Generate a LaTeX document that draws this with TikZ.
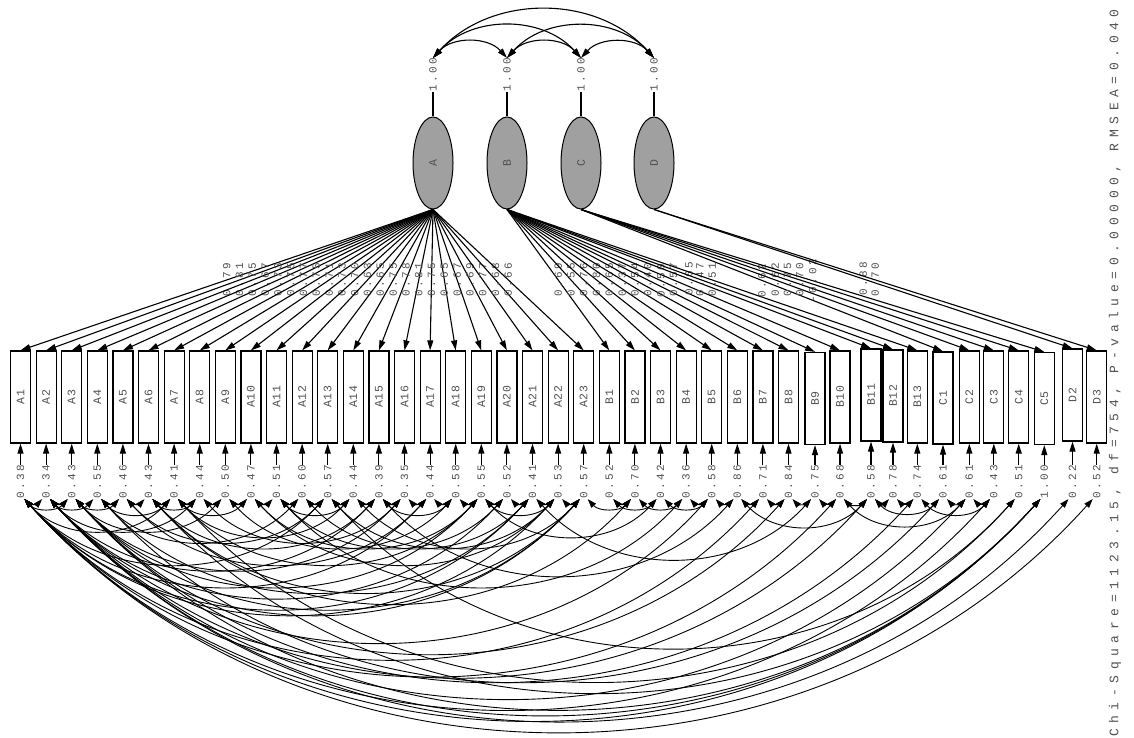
\documentclass[tikz,border=0pt]{standalone}
\usepackage{fontspec}
\newfontfamily\boxfont[LetterSpace=5]{Liberation Mono}
\newfontfamily\numfont[LetterSpace=22]{Liberation Mono}
\newfontfamily\statfont[LetterSpace=43]{Liberation Mono}
\usetikzlibrary{arrows.meta,shapes.geometric,calc}
\definecolor{latgray}{RGB}{160,160,160}
\definecolor{txtgray}{RGB}{80,80,80}
\begin{document}
\begin{tikzpicture}[x=1pt,y=-1pt,
  numlbl/.style={font=\numfont\fontsize{11}{12}\selectfont, text=txtgray, inner sep=0pt, rotate=90},
  statlbl/.style={font=\statfont\fontsize{13}{15}\selectfont, text=txtgray, inner sep=0pt, rotate=90},
  obsbox/.style={draw, line width=1.2pt, minimum width=20pt, minimum height=92pt, inner sep=0pt, font=\boxfont\fontsize{11.5}{12}\selectfont, text=txtgray},
  latent/.style={ellipse, draw, line width=1pt, fill=latgray, minimum width=40pt, minimum height=92pt, inner sep=0pt, font=\boxfont\fontsize{11.5}{12}\selectfont, text=txtgray},
  loadline/.style={line width=1.1pt, -{Triangle[length=10pt,width=6pt]}},
  errline/.style={line width=1.1pt, -{Triangle[length=10pt,width=6pt]}},
  covarc/.style={line width=0.9pt, {Triangle[length=9pt,width=6pt]}-{Triangle[length=9pt,width=6pt]}},
  covtop/.style={line width=1.1pt, {Triangle[length=10pt,width=6pt]}-{Triangle[length=10pt,width=6pt]}},
  varline/.style={line width=1.1pt}]
\useasboundingbox (0,0) rectangle (1134,738);

% latent variables with variances
\foreach \n/\x in {A/433,B/507,C/581,D/654}{
  \node[latent] (L\n) at (\x,163) {\rotatebox{90}{\n}};
  \node[numlbl, anchor=west] (v\n) at (\x,92) {1.00};
  \draw[varline] (v\n.west) -- (L\n.north);
}
\foreach \ea/\eb in {A/B,B/C,C/D,A/C,B/D,A/D}{
  \draw[covtop] (v\ea.east) .. controls ($(v\ea.east)!0.39!48:(v\eb.east)$) and ($(v\eb.east)!0.39!-48:(v\ea.east)$) .. (v\eb.east);
}

% observed variables, error variances, loadings
\foreach \i/\x/\py/\t/\e/\l/\f in {
0/20.5/397/A1/0.38/0.79/A,
1/46.1/397/A2/0.34/0.81/A,
2/71.7/397/A3/0.43/0.75/A,
3/97.3/397/A4/0.55/0.67/A,
4/122.9/397/A5/0.46/0.73/A,
5/148.5/397/A6/0.43/0.75/A,
6/174.1/397/A7/0.41/0.77/A,
7/199.7/397/A8/0.44/0.75/A,
8/225.3/397/A9/0.50/0.71/A,
9/250.9/397/A10/0.47/0.73/A,
10/276.5/397/A11/0.51/0.70/A,
11/302.1/397/A12/0.60/0.63/A,
12/327.7/397/A13/0.57/0.65/A,
13/353.3/397/A14/0.44/0.75/A,
14/378.9/397/A15/0.39/0.78/A,
15/404.5/397/A16/0.35/0.81/A,
16/430.1/397/A17/0.44/0.75/A,
17/455.7/397/A18/0.58/0.65/A,
18/481.3/397/A19/0.55/0.67/A,
19/506.9/397/A20/0.52/0.69/A,
20/532.5/397/A21/0.41/0.77/A,
21/558.1/397/A22/0.53/0.68/A,
22/583.7/397/A23/0.57/0.66/A,
23/609.3/397/B1/0.52/0.69/B,
24/634.9/397/B2/0.70/0.55/B,
25/660.5/397/B3/0.42/0.76/B,
26/686.1/397/B4/0.36/0.80/B,
27/711.7/397/B5/0.58/0.65/B,
28/737.3/397/B6/0.86/0.37/B,
29/762.9/397/B7/0.71/0.54/B,
30/788.5/397/B8/0.84/0.40/B,
31/815/398.5/B9/0.75/0.50/B,
32/840/397/B10/0.68/0.57/B,
33/871/395/B11/0.58/0.65/B,
34/893/396/B12/0.78/0.47/B,
35/917.3/397/B13/0.74/0.51/B,
36/943/398/C1/0.61/0.62/C,
37/969.3/397/C2/0.61/0.62/C,
38/993.8/397/C3/0.43/0.75/C,
39/1018.7/397/C4/0.51/0.70/C,
40/1044.3/398.5/C5/1.00/-0.02/C,
41/1072.5/395/D2/0.22/0.88/D,
42/1096.7/397/D3/0.52/0.70/D}{
  \node[obsbox] (b\i) at (\x,\py) {\rotatebox{90}{\t}};
  \node[numlbl, anchor=east] (e\i) at (\x,465) {\e};
  \draw[errline] (e\i.east) -- (b\i.south);
  \draw[loadline] (L\f.south) -- node[numlbl]{\l} (b\i.north);
}

% error covariances
\foreach \ea/\eb in {
0/1,0/2,1/2,1/3,2/4,3/4,4/5,5/6,5/7,6/7,7/8,8/9,9/10,10/11,11/12,12/13,13/14,14/15,15/16,16/17,17/18,18/19,19/20,20/21,21/22,3/6,6/9,10/13,14/17,18/21,
0/6,1/7,2/8,3/11,4/12,5/14,6/13,7/15,8/17,9/18,10/19,11/20,12/21,13/22,0/12,1/14,2/15,4/16,6/18,9/21,
0/20,0/21,1/19,1/22,2/18,3/20,0/16,2/22,5/22,
0/29,0/32,1/27,2/30,1/33,5/24,10/26,14/28,18/25,20/31,22/24,2/35,
0/40,1/40,2/40,5/40,1/41,0/42,6/39,12/39,0/38,1/37,3/36,
23/24,23/25,24/26,25/27,26/27,27/28,28/29,29/30,30/31,31/32,32/33,33/34,34/35,28/33,
33/36,32/37,35/38,36/37,37/38}{
  \path ($(e\ea.west)+(4,0)$) coordinate (pa) ($(e\eb.west)+(-4,0)$) coordinate (pb);
  \draw[covarc] (pa) .. controls ($(pa)!0.39!-48:(pb)$) and ($(pb)!0.39!48:(pa)$) .. (pb);
}

\node[statlbl] (stat) at (1115,373) {Chi-Square=1123.15, df=754, P-value=0.00000, RMSEA=0.040};
\end{tikzpicture}
\end{document}
